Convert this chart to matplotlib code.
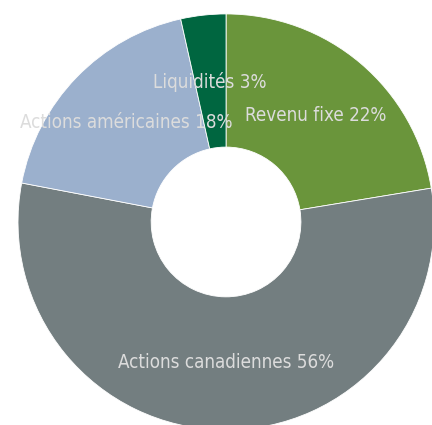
import matplotlib
matplotlib.use("Agg")
import matplotlib.pyplot as plt

categories = ["Revenu fixe", "Actions canadiennes", "Actions américaines", "Liquidités"]
shares = [22.4, 55.6, 18.5, 3.5]
label_pct = [22, 56, 18, 3]
colors = ["#6a953b", "#737e80", "#9bb0cd", "#006640"]
label_pos = [(0.43, 0.51), (0.0, -0.675), (-0.48, 0.48), (-0.077, 0.673)]

fig = plt.figure(figsize=(4.32, 4.25), dpi=100)
ax = fig.add_axes([0, 0, 1, 1])
ax.pie(shares, colors=colors, startangle=90, counterclock=False, radius=1.0,
       wedgeprops=dict(width=0.64, edgecolor="white", linewidth=0.6))
for cat, v, (x, y) in zip(categories, label_pct, label_pos):
    ax.text(x, y, f"{cat} {v}%", ha="center", va="center", color="#dcdcdc",
            fontsize=13.5, family=["DejaVu Sans"], fontstretch="condensed")
ax.set_xlim(-1.0865, 0.990)
ax.set_ylim(-0.976, 1.067)
ax.set_aspect("equal")
ax.axis("off")
fig.savefig("out.png", dpi=100)
